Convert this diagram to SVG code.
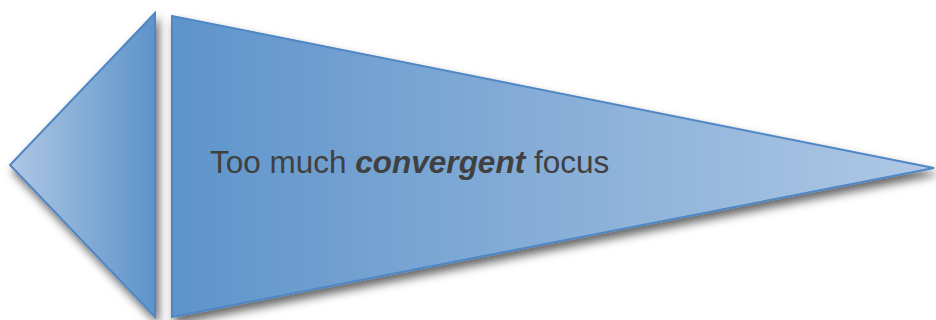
<svg xmlns="http://www.w3.org/2000/svg" width="936" height="320" viewBox="0 0 936 320">
<defs>
<linearGradient id="gl" x1="0" y1="0" x2="1" y2="0">
<stop offset="0" stop-color="#afc7e4"/>
<stop offset="1" stop-color="#5d93ca"/>
</linearGradient>
<linearGradient id="gr" x1="0" y1="0" x2="1" y2="0">
<stop offset="0" stop-color="#5e94ca"/>
<stop offset="1" stop-color="#b0c8e5"/>
</linearGradient>
<filter id="sh" x="-10%" y="-10%" width="130%" height="130%">
<feDropShadow dx="3" dy="6" stdDeviation="5" flood-color="#000" flood-opacity="0.6"/>
</filter>
<style>
.shape{stroke:#4f86c4;stroke-width:2;stroke-linejoin:miter;filter:url(#sh)}
.lbl{font-family:"Liberation Sans",Arial,sans-serif;font-size:31.5px;fill:#404040}
</style>
</defs>
<g id="left-arrow">
<polygon class="shape" points="155,13 10,165 155,317" fill="url(#gl)"/>
</g>
<g id="right-pennant">
<polygon class="shape" points="172,16 934,168 172,317" fill="url(#gr)"/>
<text class="lbl" x="210" y="173">Too much <tspan font-weight="bold" font-style="italic">convergent</tspan> focus</text>
</g>
<g id="connectors"/>
</svg>
